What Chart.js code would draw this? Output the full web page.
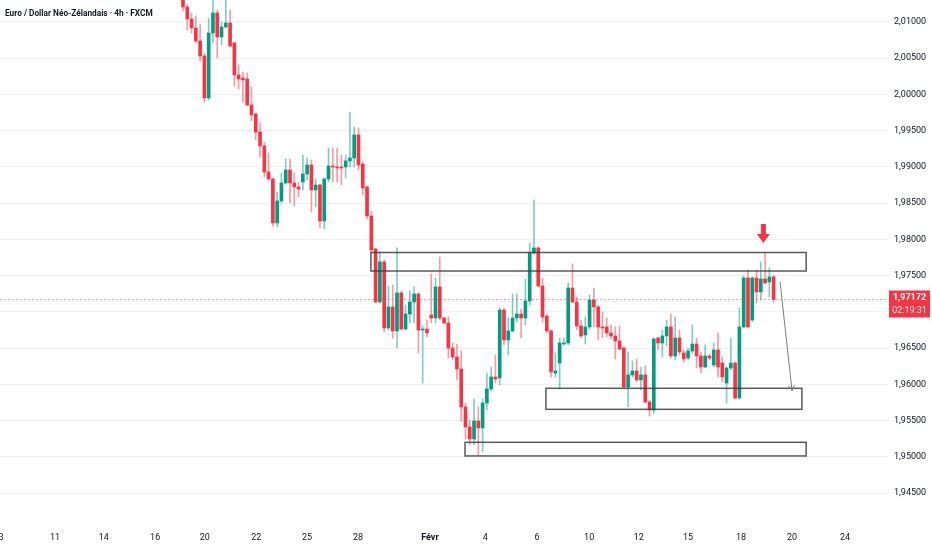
<!DOCTYPE html>
<html>
<head>
<meta charset="utf-8">
<script src="https://cdn.jsdelivr.net/npm/chart.js@4.4.1/dist/chart.umd.min.js"></script>
<style>
  html, body { margin: 0; padding: 0; background: #fff; }
  #wrap { width: 932px; height: 550px; position: relative; }
</style>
</head>
<body>
<div id="wrap"><canvas id="chart"></canvas></div>
<script>
// EUR/NZD 4h candles (index 0 = first visible candle)
const opens = [
  2.01372, 2.01207, 2.01041, 2.00917, 2.00738, 2.00531, 1.99952, 2.00848, 2.01124, 2.00793,
  2.00931, 2.00986, 2.00710, 2.00269, 2.00227, 2.00214, 1.99855, 1.99731, 1.99483, 1.99290,
  1.98931, 1.98834, 1.98228, 1.98531, 1.98779, 1.98958, 1.98779, 1.98724, 1.98793, 1.98903,
  1.99027, 1.98683, 1.98751, 1.98255, 1.98834, 1.99014, 1.99000, 1.99000, 1.99000, 1.99083,
  1.99124, 1.99441, 1.99041, 1.98724, 1.98324, 1.97869, 1.97138, 1.97690, 1.96779, 1.97069,
  1.96738, 1.97262, 1.96765, 1.96972, 1.97138, 1.97248, 1.96751, 1.96765, 1.96958, 1.96917,
  1.97345, 1.96917, 1.96848, 1.96503, 1.96379, 1.96213, 1.95689, 1.95414, 1.95248, 1.95496,
  1.95400, 1.95744, 1.95938, 1.96103, 1.96089, 1.97027, 1.96614, 1.96738, 1.96917, 1.96972,
  1.96917, 1.97152, 1.97814, 1.97883, 1.97358, 1.96944, 1.96738, 1.96158, 1.96296, 1.96558,
  1.96572, 1.97331, 1.97138, 1.96807, 1.96683, 1.96793, 1.97165, 1.97069, 1.96793, 1.96793,
  1.96710, 1.96669, 1.96600, 1.96503, 1.95965, 1.96131, 1.96186, 1.96062, 1.96131, 1.95758,
  1.95648, 1.96641, 1.96572, 1.96669, 1.96793, 1.96393, 1.96641, 1.96434, 1.96365, 1.96462,
  1.96558, 1.96393, 1.96241, 1.96393, 1.96269, 1.96476, 1.96296, 1.96020, 1.96227, 1.96296,
  1.95813, 1.96793, 1.97469, 1.96889, 1.97469, 1.97276, 1.97455, 1.97414, 1.97483
];
const highs = [
  2.01441, 2.01234, 2.01124, 2.01083, 2.00972, 2.00572, 2.01055, 2.01344, 2.01165, 2.01000,
  2.01331, 2.01165, 2.00724, 2.00407, 2.00310, 2.00296, 2.00103, 1.99745, 1.99607, 1.99345,
  1.99193, 1.98848, 1.98655, 1.98917, 1.99110, 1.99110, 1.98917, 1.98793, 1.99165, 1.99124,
  1.99096, 1.98834, 1.98765, 1.98848, 1.99262, 1.99262, 1.99262, 1.99165, 1.99165, 1.99758,
  1.99551, 1.99538, 1.99069, 1.98738, 1.98393, 1.97883, 1.97828, 1.97717, 1.97358, 1.97372,
  1.97883, 1.97290, 1.97096, 1.97290, 1.97345, 1.97262, 1.96807, 1.96889, 1.97524, 1.97469,
  1.97758, 1.96931, 1.96931, 1.96572, 1.96558, 1.96462, 1.95744, 1.95510, 1.95800, 1.95689,
  1.95800, 1.96158, 1.96241, 1.96407, 1.97055, 1.97055, 1.96917, 1.97248, 1.97248, 1.97041,
  1.97455, 1.97951, 1.98544, 1.97897, 1.97469, 1.96958, 1.96751, 1.96434, 1.96641, 1.96641,
  1.97400, 1.97662, 1.97207, 1.96889, 1.96931, 1.97234, 1.97331, 1.97096, 1.97000, 1.96917,
  1.96820, 1.96793, 1.96807, 1.96517, 1.96448, 1.96324, 1.96351, 1.96241, 1.96255, 1.95786,
  1.96641, 1.96655, 1.96751, 1.96889, 1.96972, 1.96931, 1.96751, 1.96476, 1.96503, 1.96820,
  1.96641, 1.96448, 1.96545, 1.96420, 1.96572, 1.96710, 1.96379, 1.96241, 1.96641, 1.96310,
  1.97055, 1.97496, 1.97579, 1.97483, 1.97579, 1.97690, 1.97814, 1.97607, 1.97510
];
const lows = [
  2.01151, 2.00890, 2.00848, 2.00710, 2.00462, 1.99896, 1.99924, 2.00710, 2.00503, 2.00683,
  2.00917, 2.00655, 2.00117, 2.00076, 1.99896, 1.99841, 1.99634, 1.99372, 1.99138, 1.98862,
  1.98820, 1.98186, 1.98172, 1.98503, 1.98765, 1.98503, 1.98462, 1.98586, 1.98683, 1.98820,
  1.98379, 1.98448, 1.98159, 1.98145, 1.98793, 1.98793, 1.98793, 1.98751, 1.98848, 1.99000,
  1.99000, 1.98958, 1.98614, 1.98283, 1.97814, 1.97124, 1.97124, 1.96724, 1.96751, 1.96641,
  1.96503, 1.96751, 1.96751, 1.96848, 1.96848, 1.96434, 1.96020, 1.96655, 1.96848, 1.96848,
  1.96889, 1.96834, 1.96365, 1.96338, 1.96062, 1.95496, 1.95248, 1.95165, 1.95165, 1.95027,
  1.95069, 1.95648, 1.95910, 1.96020, 1.95993, 1.96545, 1.96407, 1.96724, 1.96862, 1.96641,
  1.96820, 1.97096, 1.97800, 1.97345, 1.96862, 1.96710, 1.96103, 1.96103, 1.95938, 1.96545,
  1.96545, 1.97124, 1.96751, 1.96641, 1.96558, 1.96765, 1.96793, 1.96614, 1.96641, 1.96655,
  1.96627, 1.96351, 1.96476, 1.95951, 1.95689, 1.96103, 1.96034, 1.95924, 1.95744, 1.95565,
  1.95606, 1.96476, 1.96379, 1.96531, 1.96365, 1.96338, 1.96407, 1.96310, 1.96338, 1.96434,
  1.96227, 1.96158, 1.96227, 1.96338, 1.96241, 1.96103, 1.96034, 1.95744, 1.96200, 1.95799,
  1.95800, 1.96779, 1.96779, 1.96862, 1.97124, 1.97165, 1.97386, 1.97207, 1.97138
];
const closes = [
  2.01207, 2.01041, 2.00917, 2.00738, 2.00531, 1.99952, 2.00848, 2.01124, 2.00793, 2.00931,
  2.00986, 2.00669, 2.00269, 2.00214, 2.00200, 1.99855, 1.99717, 1.99483, 1.99290, 1.98931,
  1.98834, 1.98228, 1.98531, 1.98779, 1.98958, 1.98779, 1.98724, 1.98696, 1.98903, 1.99027,
  1.98683, 1.98751, 1.98255, 1.98834, 1.99014, 1.99000, 1.98986, 1.98986, 1.99083, 1.99124,
  1.99441, 1.99027, 1.98710, 1.98324, 1.97855, 1.97138, 1.97690, 1.96779, 1.97069, 1.96738,
  1.97262, 1.96765, 1.96972, 1.97138, 1.97248, 1.96751, 1.96765, 1.96710, 1.96917, 1.97345,
  1.96917, 1.96848, 1.96503, 1.96379, 1.96213, 1.95689, 1.95414, 1.95248, 1.95496, 1.95400,
  1.95744, 1.95938, 1.96103, 1.96075, 1.97027, 1.96614, 1.96738, 1.96917, 1.96972, 1.96917,
  1.97152, 1.97814, 1.97883, 1.97358, 1.96931, 1.96738, 1.96172, 1.96186, 1.96572, 1.96572,
  1.97331, 1.97138, 1.96807, 1.96669, 1.96793, 1.97165, 1.97069, 1.96793, 1.96779, 1.96710,
  1.96669, 1.96600, 1.96489, 1.95965, 1.96131, 1.96186, 1.96062, 1.96131, 1.95758, 1.95648,
  1.96627, 1.96572, 1.96669, 1.96793, 1.96393, 1.96641, 1.96448, 1.96351, 1.96462, 1.96558,
  1.96393, 1.96241, 1.96393, 1.96365, 1.96476, 1.96241, 1.96103, 1.96227, 1.96296, 1.95813,
  1.96793, 1.97469, 1.96793, 1.97469, 1.97276, 1.97455, 1.97400, 1.97483, 1.97172
];

// time axis labels (position in candle units) and price ticks
const dateTickPos = [-42.5, -29.9, -18.5, -6.5, 5.1, 17.1, 29.0, 40.9, 57.7, 70.6, 82.7, 94.9, 106.5, 118.0, 130.4, 142.3, 154.7];
const dateTickLabels = ['3', '11', '14', '16', '20', '22', '25', '28', 'Févr', '4', '6', '10', '12', '15', '18', '20', '24'];
const priceTicks = [1.945, 1.950, 1.955, 1.960, 1.965, 1.970, 1.975, 1.980, 1.985, 1.990, 1.995, 2.000, 2.005, 2.010];

const lastPrice = 1.97172;
const countdown = '02:19:31';
const title = 'Euro / Dollar Néo-Zélandais · 4h · FXCM';

// drawn zones [xStart, xEnd, priceLow, priceHigh]
const zoneTop = [43.9, 145.6, 1.97565, 1.97820];
const zoneMid = [84.8, 144.6, 1.95657, 1.95947];
const zoneLow = [65.9, 145.6, 1.95014, 1.95202];
const arrowFrom = [139.5, 1.97417];
const arrowTo = [142.3, 1.95914];
const markerAt = [135.6, 1.97951];

const UP = '#089981';
const DOWN = '#F23645';
const isUp = closes.map((c, i) => c >= opens[i]);

// keep the plot area flush with the canvas edges, like the original
function noEdgePadding(axis) {
  axis.paddingLeft = 0;
  axis.paddingRight = 0;
  axis.paddingTop = 0;
  axis.paddingBottom = 0;
}

const overlays = {
  id: 'overlays',
  afterDatasetsDraw(chart) {
    const { ctx, scales: { x, y }, chartArea } = chart;
    ctx.save();
    ctx.beginPath();
    ctx.rect(chartArea.left, chartArea.top, chartArea.width, chartArea.height);
    ctx.clip();

    // last price line
    const py = y.getPixelForValue(lastPrice);
    ctx.strokeStyle = 'rgba(242,54,69,0.45)';
    ctx.lineWidth = 1;
    ctx.setLineDash([2, 2]);
    ctx.beginPath();
    ctx.moveTo(chartArea.left, Math.round(py) + 0.5);
    ctx.lineTo(chartArea.right, Math.round(py) + 0.5);
    ctx.stroke();
    ctx.setLineDash([]);

    // zones
    ctx.strokeStyle = 'rgba(60,60,60,0.85)';
    ctx.lineWidth = 1.5;
    [zoneTop, zoneMid, zoneLow].forEach(z => {
      const x0 = x.getPixelForValue(z[0]), x1 = x.getPixelForValue(z[1]);
      const y0 = y.getPixelForValue(z[3]), y1 = y.getPixelForValue(z[2]);
      ctx.strokeRect(x0, y0, x1 - x0, y1 - y0);
    });

    // projection arrow
    const ax0 = x.getPixelForValue(arrowFrom[0]), ay0 = y.getPixelForValue(arrowFrom[1]);
    const ax1 = x.getPixelForValue(arrowTo[0]), ay1 = y.getPixelForValue(arrowTo[1]);
    ctx.strokeStyle = '#787b86';
    ctx.lineWidth = 1;
    ctx.beginPath();
    ctx.moveTo(ax0, ay0);
    ctx.lineTo(ax1, ay1);
    const ang = Math.atan2(ay1 - ay0, ax1 - ax0);
    ctx.moveTo(ax1 - 6 * Math.cos(ang - 0.5), ay1 - 6 * Math.sin(ang - 0.5));
    ctx.lineTo(ax1, ay1);
    ctx.lineTo(ax1 - 6 * Math.cos(ang + 0.5), ay1 - 6 * Math.sin(ang + 0.5));
    ctx.stroke();

    // red down marker
    const mx = x.getPixelForValue(markerAt[0]), my = y.getPixelForValue(markerAt[1]);
    ctx.fillStyle = DOWN;
    ctx.fillRect(mx - 2.5, my - 19, 5, 11);
    ctx.beginPath();
    ctx.moveTo(mx - 6.5, my - 9);
    ctx.lineTo(mx + 6.5, my - 9);
    ctx.lineTo(mx, my);
    ctx.closePath();
    ctx.fill();
    ctx.restore();
  },
  afterDraw(chart) {
    const { ctx, scales: { y }, chartArea } = chart;
    ctx.save();
    // title
    ctx.fillStyle = '#131722';
    ctx.font = 'bold 8.3px Roboto';
    ctx.textBaseline = 'middle';
    ctx.textAlign = 'left';
    ctx.fillText(title, 5, 14);
    // last price label
    const py = y.getPixelForValue(lastPrice);
    ctx.fillStyle = DOWN;
    ctx.fillRect(chartArea.right + 1, py - 9, 41, 27);
    ctx.fillStyle = '#ffffff';
    ctx.textAlign = 'center';
    ctx.font = 'bold 9px Roboto';
    ctx.fillText(lastPrice.toFixed(5).replace('.', ','), chartArea.right + 21.5, py - 2);
    ctx.font = '9px Roboto';
    ctx.fillStyle = 'rgba(255,255,255,0.9)';
    ctx.fillText(countdown, chartArea.right + 21.5, py + 11);
    ctx.restore();
  }
};

new Chart(document.getElementById('chart'), {
  type: 'bar',
  data: {
    datasets: [
      {
        label: 'body',
        data: opens.map((o, i) => ({ x: i, y: [o, closes[i]] })),
        backgroundColor: isUp.map(u => u ? UP : DOWN),
        barThickness: 3,
        minBarLength: 1,
        grouped: false,
        order: 1
      },
      {
        label: 'wick',
        data: lows.map((l, i) => ({ x: i, y: [l, highs[i]] })),
        backgroundColor: isUp.map(u => u ? 'rgba(8,153,129,0.5)' : 'rgba(242,54,69,0.5)'),
        barThickness: 1,
        grouped: false,
        order: 2
      }
    ]
  },
  plugins: [overlays],
  options: {
    responsive: true,
    maintainAspectRatio: false,
    animation: false,
    layout: { padding: 0 },
    plugins: { legend: { display: false }, tooltip: { enabled: false } },
    scales: {
      x: {
        type: 'linear',
        min: -42.757,
        max: 164.72,
        offset: false,
        grid: { display: false, drawTicks: false },
        border: { display: false },
        afterBuildTicks: axis => { axis.ticks = dateTickPos.map(v => ({ value: v })); },
        afterFit: axis => { axis.height = 32; noEdgePadding(axis); },
        ticks: {
          autoSkip: false,
          maxRotation: 0,
          padding: 14,
          color: '#131722',
          font: c => ({ family: 'Roboto', size: 9, weight: (c.tick && dateTickLabels[c.index] === 'Févr') ? 'bold' : 'normal' }),
          callback: (v, i) => dateTickLabels[i]
        }
      },
      y: {
        position: 'right',
        min: 1.94158,
        max: 2.01303,
        grid: { color: '#f0f0f0', drawTicks: false },
        border: { display: false },
        afterBuildTicks: axis => { axis.ticks = priceTicks.map(v => ({ value: v })); },
        afterFit: axis => { axis.width = 44; noEdgePadding(axis); },
        ticks: {
          padding: 6,
          color: '#131722',
          font: { family: 'Roboto', size: 9 },
          callback: v => v.toFixed(5).replace('.', ',')
        }
      }
    }
  }
});
</script>
</body>
</html>
